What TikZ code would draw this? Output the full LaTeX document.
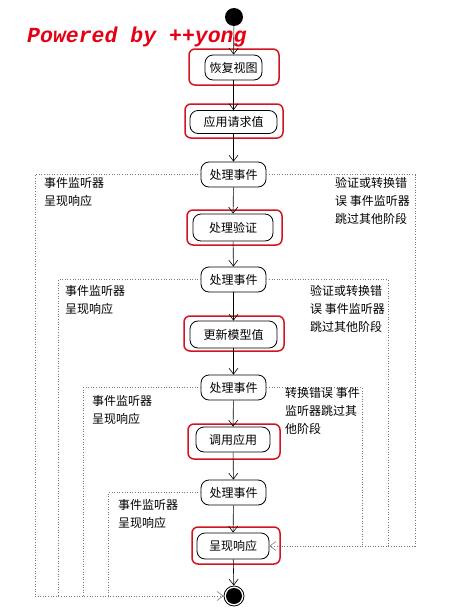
\documentclass[tikz,border=0pt]{standalone}
\usepackage{fontspec}
\usepackage{xcolor}
\usetikzlibrary{shapes,arrows.meta,positioning,calc}
\newfontfamily\cjk{Noto Sans CJK SC}
\newfontfamily\wmark{Liberation Mono}
\definecolor{framered}{RGB}{210,20,30}
\definecolor{markred}{RGB}{230,0,20}
\definecolor{skipgray}{RGB}{120,120,120}

\tikzset{
  action/.style={draw, rounded corners=8pt, thick, fill=white, inner sep=0pt, font=\cjk\fontsize{12}{14}\selectfont},
  event/.style={action, minimum width=65pt, minimum height=25pt},
  redframe/.style={draw=framered, line width=1.5pt, rounded corners=6pt},
  flow/.style={-{Straight Barb[length=6pt,width=9pt]}, semithick},
  skip/.style={skipgray, dotted, semithick},
  note/.style={anchor=north west, align=left, inner sep=0pt, font=\cjk\fontsize{12}{18}\selectfont}
}

\begin{document}
\begin{tikzpicture}[x=1pt,y=-1pt]
\useasboundingbox (0,0) rectangle (449,616);

% Watermark
\node[anchor=west, text=markred, font=\wmark\bfseries\itshape\fontsize{21.5}{22}\selectfont, inner sep=0pt] (mark) at (27,37) {Powered by ++yong};

% Red frames behind the main phases
\draw[redframe] (189,49) rectangle (279,85);
\draw[redframe] (185,104) rectangle (283,138);
\draw[redframe] (187,210) rectangle (282,245);
\draw[redframe] (184,316) rectangle (284,351);
\draw[redframe] (188,424) rectangle (280,459);
\draw[redframe] (192,527) rectangle (280,564);

% Start and end
\node[circle, fill=black, minimum size=18pt, inner sep=0pt] (start) at (234,17) {};
\node[circle, draw, thick, minimum size=20pt, inner sep=0pt] (end) at (234,596) {};
\fill (end) circle (8pt);

% Phases
\node[action, minimum width=57pt, minimum height=25pt] (restore) at (233.5,67.5) {恢复视图};
\node[action, minimum width=87pt, minimum height=23pt] (apply) at (233.5,122) {应用请求值};
\node[event] (ev1) at (233.5,174.5) {处理事件};
\node[action, minimum width=80pt, minimum height=27pt] (validate) at (233,227.5) {处理验证};
\node[event] (ev2) at (233.5,279.5) {处理事件};
\node[action, minimum width=87pt, minimum height=27pt] (update) at (233.5,334.5) {更新模型值};
\node[event] (ev3) at (233.5,387.5) {处理事件};
\node[action, minimum width=74pt, minimum height=25pt] (invoke) at (233,439.5) {调用应用};
\node[event] (ev4) at (233.5,492.5) {处理事件};
\node[action, minimum width=72pt, minimum height=26pt] (render) at (233,546) {呈现响应};

% Main flow
\draw[flow] (start) -- (restore);
\draw[flow] (restore) -- (apply);
\draw[flow] (apply) -- (ev1);
\draw[flow] (ev1) -- (validate);
\draw[flow] (validate) -- (ev2);
\draw[flow] (ev2) -- (update);
\draw[flow] (update) -- (ev3);
\draw[flow] (ev3) -- (invoke);
\draw[flow] (invoke) -- (ev4);
\draw[flow] (ev4) -- (render);
\draw[flow] (render) -- (end);

% Skip paths
\coordinate (bl1) at (35,596);
\coordinate (bl2) at (58,596);
\coordinate (bl3) at (83,596);
\coordinate (bl4) at (108,596);
\coordinate (br1) at (415,546);
\coordinate (br2) at (388,546);
\coordinate (br3) at (362,546);

\draw[skip] (ev1) -| (bl1);
\draw[skip] (ev2) -| (bl2);
\draw[skip] (ev3) -| (bl3);
\draw[skip] (ev4) -| (bl4);
\draw[skip] (ev1) -| (br1);
\draw[skip] (ev2) -| (br2);
\draw[skip] (ev3) -| (br3);
\draw[skip, -{Straight Barb[length=6pt,width=9pt]}] (bl1) -- (end);
\draw[skip, -{Straight Barb[length=6pt,width=9pt]}] (br1) -- (render);

% Notes
\node[note] (resp1) at (44,177) {事件监听器\\呈现响应};
\node[note] (err1) at (335,177) {验证或转换错\\误 事件监听器\\跳过其他阶段};
\node[note] (resp2) at (65,285) {事件监听器\\呈现响应};
\node[note] (err2) at (310,285) {验证或转换错\\误 事件监听器\\跳过其他阶段};
\node[note] (resp3) at (92,395) {事件监听器\\呈现响应};
\node[note] (err3) at (285,387) {转换错误 事件\\监听器跳过其\\他阶段};
\node[note] (resp4) at (118,499) {事件监听器\\呈现响应};
\end{tikzpicture}
\end{document}
